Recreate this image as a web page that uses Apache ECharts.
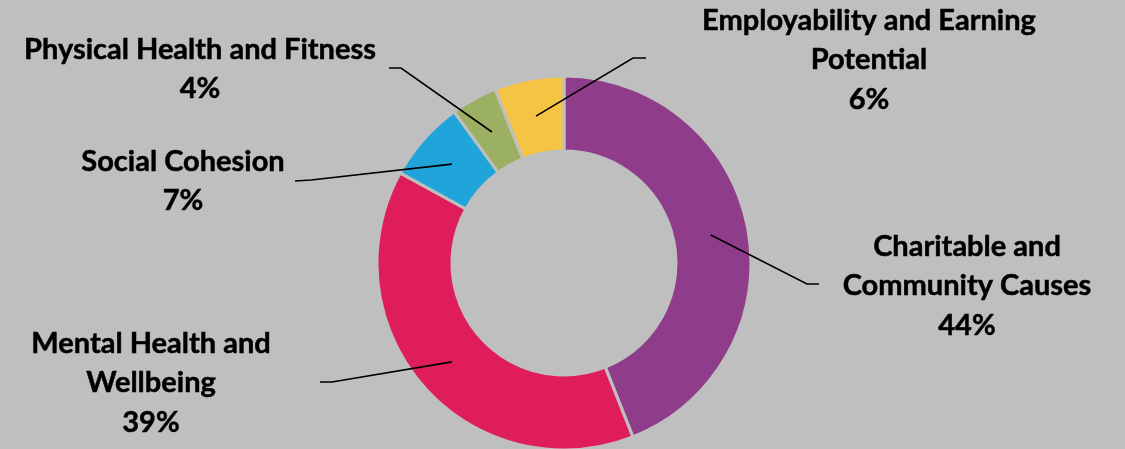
<!DOCTYPE html>
<html>
<head>
<meta charset="utf-8">
<script src="https://cdn.jsdelivr.net/npm/echarts@6/dist/echarts.min.js"></script>
<style>
  html, body { margin: 0; padding: 0; background: #bfbfbf; }
  #chart { width: 1125px; height: 449px; }
</style>
</head>
<body>
<div id="chart"></div>
<script>
// Share of activity by impact area (percent)
const categories = [
  'Charitable and\nCommunity Causes',
  'Mental Health and\nWellbeing',
  'Social Cohesion',
  'Physical Health and Fitness',
  'Employability and Earning\nPotential'
];
const shares = [44, 39, 7, 4, 6];
const sliceColors = ['#8f3c8a', '#df1d5a', '#1fa5da', '#9bb062', '#f5c443'];

// Callout placement: label block centre, leader-line elbow and end point (px)
const callouts = [
  { label: [967, 286], elbow: [807, 284], end: [819, 284] },
  { label: [151, 383], elbow: [332, 382], end: [320, 382] },
  { label: [183, 181], elbow: [311, 180], end: [295, 181] },
  { label: [200, 69],  elbow: [401, 68],  end: [389, 68] },
  { label: [869, 60],  elbow: [633, 58],  end: [646, 58] }
];

const chart = echarts.init(document.getElementById('chart'));

chart.setOption({
  backgroundColor: '#bfbfbf',
  animation: false,
  series: [{
    type: 'pie',
    center: [564, 263],
    radius: [112, 187],
    startAngle: 90,
    clockwise: true,
    avoidLabelOverlap: false,
    itemStyle: { borderColor: '#bfbfbf', borderWidth: 3 },
    data: categories.map((name, i) => ({
      name: name,
      value: shares[i],
      itemStyle: { color: sliceColors[i] }
    })),
    label: {
      show: true,
      position: 'outside',
      formatter: p => p.name + '\n' + p.value + '%',
      fontFamily: 'Lato, "Open Sans", sans-serif',
      fontWeight: 'bold',
      fontSize: 29,
      lineHeight: 39.5,
      color: '#000000',
      textBorderColor: '#000000',
      textBorderWidth: 0.5,
      align: 'center'
    },
    labelLine: { show: false },
    labelLayout: params => {
      const c = callouts[params.dataIndex];
      return { x: c.label[0], y: c.label[1], align: 'center', verticalAlign: 'middle' };
    }
  }]
});

// Leader lines run from the middle of each ring segment to its callout,
// drawn above the slices.
const pieData = chart.getModel().getSeriesByIndex(0).getData();
const leaders = callouts.map((c, idx) => {
  const layout = pieData.getItemLayout(idx);
  const mid = (layout.startAngle + layout.endAngle) / 2;
  const r = (layout.r + layout.r0) / 2;
  const start = [layout.cx + r * Math.cos(mid), layout.cy + r * Math.sin(mid)];
  return {
    type: 'polyline',
    z: 100,
    silent: true,
    shape: { points: [start, c.elbow, c.end] },
    style: { stroke: '#000000', lineWidth: 1.6, fill: null }
  };
});
chart.setOption({ graphic: leaders });
</script>
</body>
</html>
